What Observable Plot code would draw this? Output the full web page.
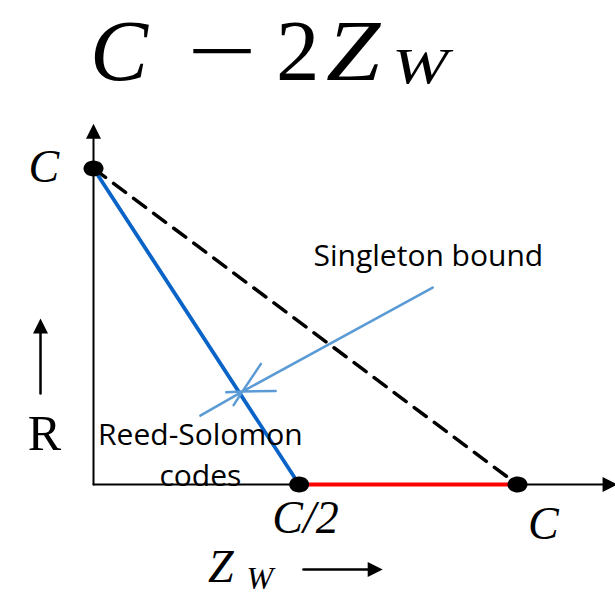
<!DOCTYPE html>
<html>
<head>
<meta charset="utf-8">
<script src="https://cdn.jsdelivr.net/npm/d3@7"></script>
<script src="https://cdn.jsdelivr.net/npm/@observablehq/plot@0.6"></script>
<style>
  html, body { margin: 0; padding: 0; background: #fff; }
  #title { position: relative; width: 615px; height: 100px; font-family: "Liberation Serif", "DejaVu Serif", serif; color: #000; }
  #title span { position: absolute; line-height: normal; white-space: nowrap; transform-origin: left center; }
  #chart svg { display: block; }
</style>
</head>
<body>
<div id="title">
  <span style="left:90px; top:0px; font-size:87px; font-style:italic;">C</span>
  <span style="left:187px; top:0px; font-size:87px; transform:scaleX(1.42);">−</span>
  <span style="left:276px; top:0px; font-size:87px;">2</span>
  <span style="left:326px; top:0px; font-size:87px; font-style:italic; transform:scaleX(1.12);">Z</span>
  <span style="left:392px; top:37px; font-size:50px; font-style:italic; transform:scaleX(1.35);">W</span>
</div>
<div id="chart"></div>
<script>
// ---- data (x = Z_W / C, y = R / C) ----
const pointLabels = ["C", "C/2", "C"];
const pointX = [0, 0.485, 1];
const pointY = [1, 0, 0];
const labelX = [-0.117, 0.50, 1.061];
const labelY = [0.956, -0.155, -0.171];

const reedSolomonX = [0, 0.485];
const reedSolomonY = [1, 0];
const singletonX = [0, 1];
const singletonY = [1, 0];
const flatX = [0.485, 1];
const flatY = [0, 0];

const axisEndX = 1.236;
const axisEndY = 1.142;

const annotationTexts = ["Singleton bound", "Reed-Solomon\ncodes"];
const annotationX = [0.519, 0.252];
const annotationY = [0.693, -0.006];
const pointerX1 = [0.800, 0.252];
const pointerY1 = [0.623, 0.218];
const pointerX2 = [0.351, 0.351];
const pointerY2 = [0.294, 0.294];

// ---- tables built from arrays ----
const points = pointX.map((x, i) => ({x, y: pointY[i], label: pointLabels[i], lx: labelX[i], ly: labelY[i]}));
const line = (xs, ys) => xs.map((x, i) => ({x, y: ys[i]}));
const pointers = pointerX1.map((x1, i) => ({x1, y1: pointerY1[i], x2: pointerX2[i], y2: pointerY2[i]}));
const annotations = annotationTexts.map((t, i) => ({t, x: annotationX[i], y: annotationY[i]}));

// custom symbols
const ellipse = {
  draw(ctx) {
    const rx = 10, ry = 8, k = 0.5523;
    ctx.moveTo(rx, 0);
    ctx.bezierCurveTo(rx, ry * k, rx * k, ry, 0, ry);
    ctx.bezierCurveTo(-rx * k, ry, -rx, ry * k, -rx, 0);
    ctx.bezierCurveTo(-rx, -ry * k, -rx * k, -ry, 0, -ry);
    ctx.bezierCurveTo(rx * k, -ry, rx, -ry * k, rx, 0);
    ctx.closePath();
  }
};
const head = {
  draw(ctx) {
    ctx.moveTo(0, 0);
    ctx.lineTo(-15, -7.5);
    ctx.lineTo(-15, 7.5);
    ctx.closePath();
  }
};

const serif = "Liberation Serif, DejaVu Serif, serif";
const sans = "Open Sans, Noto Sans, sans-serif";

const chart = Plot.plot({
  width: 615,
  height: 495,
  marginLeft: 93,
  marginRight: 98,
  marginTop: 68,
  marginBottom: 111,
  x: {domain: [0, 1], axis: null},
  y: {domain: [0, 1], axis: null},
  marks: [
    // axes
    Plot.line(line([0, axisEndX - 0.03], [0, 0]), {x: "x", y: "y", stroke: "black", strokeWidth: 2}),
    Plot.line(line([0, 0], [0, axisEndY - 0.04]), {x: "x", y: "y", stroke: "black", strokeWidth: 2}),
    Plot.dot([{x: axisEndX, y: 0}], {x: "x", y: "y", symbol: head, fill: "black", stroke: null, rotate: 0}),
    Plot.dot([{x: 0, y: axisEndY}], {x: "x", y: "y", symbol: head, fill: "black", stroke: null, rotate: -90}),
    // Singleton bound (dashed)
    Plot.line(line(singletonX, singletonY), {x: "x", y: "y", stroke: "black", strokeWidth: 3.5, strokeDasharray: "15,10"}),
    // Reed-Solomon line
    Plot.line(line(reedSolomonX, reedSolomonY), {x: "x", y: "y", stroke: "#0a64c8", strokeWidth: 3.8}),
    // flat red segment
    Plot.line(line(flatX, flatY), {x: "x", y: "y", stroke: "#ff0000", strokeWidth: 3.8}),
    // points
    Plot.dot(points, {x: "x", y: "y", symbol: ellipse, fill: "black", stroke: null}),
    // point labels
    Plot.text(points, {x: "lx", y: "ly", text: "label", fontFamily: serif, fontStyle: "italic", fontSize: 46, lineAnchor: "bottom", textAnchor: "middle", fill: "black"}),
    // pointer arrows
    Plot.arrow(pointers, {x1: "x1", y1: "y1", x2: "x2", y2: "y2", stroke: "#5b9bd5", strokeWidth: 2.5, headLength: 20, headAngle: 55}),
    // annotations
    Plot.text(annotations.slice(0, 1), {x: "x", y: "y", text: "t", fontFamily: sans, fontSize: 30, textAnchor: "start", lineAnchor: "bottom", fill: "black"}),
    Plot.text(annotations.slice(1), {x: "x", y: "y", text: "t", fontFamily: sans, fontSize: 30, textAnchor: "middle", lineAnchor: "bottom", lineHeight: 1.37, fill: "black"}),
    // R label and arrow
    Plot.text([{x: -0.116, y: 0.108, t: "R"}], {x: "x", y: "y", text: "t", fontFamily: serif, fontSize: 50, textAnchor: "middle", lineAnchor: "bottom", fill: "black"}),
    Plot.line(line([-0.125, -0.125], [0.288, 0.49]), {x: "x", y: "y", stroke: "black", strokeWidth: 2.5}),
    Plot.dot([{x: -0.125, y: 0.525}], {x: "x", y: "y", symbol: head, fill: "black", stroke: null, rotate: -90}),
    // Z_W label and arrow
    Plot.text([{x: 0.300, y: -0.310, t: "Z"}], {x: "x", y: "y", text: "t", fontFamily: serif, fontStyle: "italic", fontSize: 46, textAnchor: "middle", lineAnchor: "bottom", fill: "black"}),
    Plot.text([{x: 0.392, y: -0.330, t: "W"}], {x: "x", y: "y", text: "t", fontFamily: serif, fontStyle: "italic", fontSize: 32, textAnchor: "middle", lineAnchor: "bottom", fill: "black"}),
    Plot.line(line([0.495, 0.66], [-0.269, -0.269]), {x: "x", y: "y", stroke: "black", strokeWidth: 2.5}),
    Plot.dot([{x: 0.682, y: -0.269}], {x: "x", y: "y", symbol: head, fill: "black", stroke: null, rotate: 0})
  ]
});
document.getElementById("chart").appendChild(chart);
</script>
</body>
</html>
